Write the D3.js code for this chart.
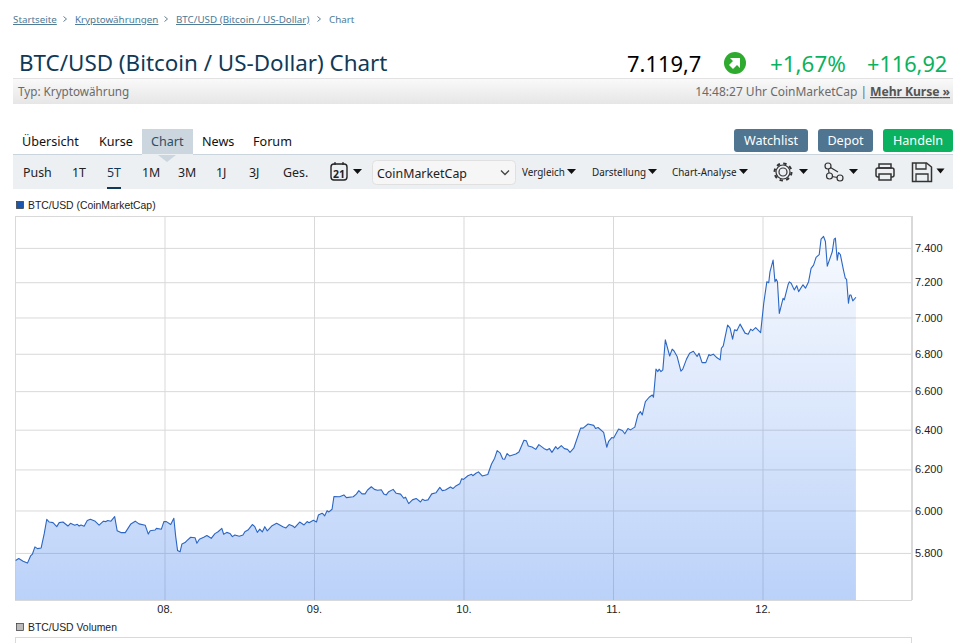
<!DOCTYPE html>
<html>
<head>
<meta charset="utf-8">
<script src="https://cdn.jsdelivr.net/npm/d3@7"></script>
<style>
  html, body { margin: 0; padding: 0; background: #fff; overflow: hidden; }
  svg { display: block; }
  text { font-family: "Noto Sans", sans-serif; }
  .chartText text, text.chartText { font-family: "Liberation Sans", Arial, sans-serif; font-size: 11px; fill: #222; }
  .axis .domain { display: none; }
  .axis line { stroke: #d9d9d9; }
</style>
</head>
<body>
<script>
// hours since 07. 00:00
var hours = [0.1,0.6,1.3,2.0,2.5,2.8,3.2,3.6,4.2,4.7,5.1,5.5,6.1,6.7,7.1,7.7,8.5,8.9,9.6,10.0,10.3,10.6,11.1,11.6,12.1,12.8,13.5,14.2,14.6,14.9,15.4,16.0,16.4,17.0,17.7,18.6,19.3,19.9,20.9,21.4,21.7,22.5,22.7,23.5,23.9,24.3,25.0,25.5,25.8,26.1,26.5,26.8,27.3,27.6,28.2,28.9,29.2,29.6,30.3,30.8,31.5,32.1,32.6,33.2,33.5,34.0,34.5,34.9,35.3,36.0,36.6,36.9,37.4,38.1,38.5,38.9,39.3,39.7,40.1,40.5,41.2,42.0,43.0,43.5,44.0,44.6,44.9,45.7,
  46.4,46.9,47.2,47.9,48.4,48.7,49.3,49.5,49.7,50.1,50.4,50.9,51.2,52.1,52.8,53.2,54.3,54.8,55.2,55.7,56.2,56.6,57.2,57.7,58.2,58.8,59.2,59.6,60.0,60.7,61.2,61.9,62.4,62.7,63.2,63.8,64.4,65.1,65.4,65.8,66.3,66.9,67.6,68.2,68.6,69.1,69.9,70.3,70.7,71.4,71.7,72.0,72.7,73.3,73.5,74.0,74.4,75.0,75.9,76.5,77.0,77.4,77.9,78.3,78.6,79.0,79.4,79.9,80.4,80.9,81.5,81.7,82.1,82.4,83.0,83.6,84.1,84.9,85.4,85.8,86.2,86.8,87.1,87.7,88.2,88.7,89.1,89.7,90.8,91.2,92.0,92.9,93.2,93.6,94.5,95.0,95.3,95.8,96.1,96.9,97.5,97.9,98.4,98.8,99.5,
  100.0,100.4,100.7,101.2,101.8,102.3,102.5,102.9,103.2,103.4,103.7,104.0,104.4,105.1,105.5,105.8,106.3,106.9,107.2,107.8,108.3,108.9,109.5,109.8,110.3,110.9,111.4,111.6,112.1,112.7,113.2,113.4,113.7,114.4,114.8,115.2,115.5,115.9,116.4,117.2,117.7,118.1,118.4,118.9,119.7,120.2,120.7,121.0,121.2,121.7,122.0,122.2,122.4,122.7,123.3,123.5,124.1,124.3,124.6,125.1,125.5,125.8,126.5,126.9,127.4,127.8,128.2,128.6,129.1,129.4,129.8,130.1,130.4,131.2,131.5,131.7,132.0,132.2,132.5,133.0,133.3,133.5,133.8,134.0,134.2,134.5,135.0];

var prices = [5765,5774,5762,5753,5786,5795,5828,5820,5823,5891,5958,5945,5942,5923,5942,5945,5926,5939,5930,5934,5926,5931,5925,5952,5958,5950,5930,5949,5947,5952,5949,5971,5904,5895,5895,5936,5949,5936,5930,5888,5904,5907,5915,5911,5947,5947,5933,5963,5876,5811,5805,5842,5848,5857,5873,5871,5845,5864,5873,5881,5868,5890,5899,5915,5887,5896,5891,5876,5884,5878,5884,5899,5907,5933,5923,5896,5911,5898,5923,5903,5926,5939,5923,5917,5933,5926,5918,5945,
  5931,5947,5942,5953,5945,5978,5987,5982,5974,5999,5993,6006,6067,6066,6075,6062,6066,6079,6096,6080,6080,6099,6115,6102,6098,6100,6080,6075,6091,6102,6083,6079,6059,6064,6033,6051,6058,6041,6054,6048,6051,6080,6086,6112,6096,6099,6114,6106,6117,6129,6154,6151,6169,6176,6169,6181,6188,6168,6175,6227,6256,6294,6281,6252,6251,6279,6267,6272,6277,6287,6331,6346,6343,6317,6312,6300,6324,6305,6297,6304,6285,6314,6302,6319,6304,6300,6285,6306,6408,6408,6429,6422,6406,6411,6386,6311,6341,6360,6358,6403,6396,6379,6406,6399,6413,
  6476,6493,6476,6545,6568,6580,6568,6717,6704,6717,6704,6713,6876,6788,6825,6815,6785,6706,6717,6771,6803,6814,6785,6803,6752,6752,6796,6790,6798,6778,6767,6830,6843,6958,6941,6880,6931,6927,6963,6913,6907,6935,6927,6944,6916,7080,7203,7197,7260,7328,7203,7217,7203,7023,7108,7099,7185,7202,7194,7156,7180,7146,7185,7166,7203,7280,7299,7344,7360,7452,7468,7438,7293,7377,7452,7458,7328,7373,7361,7270,7222,7217,7080,7127,7127,7093,7114];

var yTicks = [5800,6000,6200,6400,6600,6800,7000,7200,7400];
var crumbs = ["Startseite","Kryptowährungen","BTC/USD (Bitcoin / US-Dollar)","Chart"];
var tabs = ["Übersicht","Kurse","Chart","News","Forum"];
var periods = ["Push","1T","5T","1M","3M","1J","3J","Ges."];
var menus = ["Vergleich","Darstellung","Chart-Analyse"];
var buttons = ["Watchlist","Depot","Handeln"];

var svgWidth = 963;
var svgHeight = 643;
var dark = "#0f3a57";
var green = "#0ab260";

var svg = d3.select("body").append("svg")
  .attr("width", svgWidth)
  .attr("height", svgHeight);

var defs = svg.append("defs");

var barGrad = defs.append("linearGradient").attr("id", "barGrad").attr("x2", 0).attr("y2", 1);
barGrad.append("stop").attr("offset", 0).attr("stop-color", "#fafafa");
barGrad.append("stop").attr("offset", 1).attr("stop-color", "#e6e6e6");

function label(sel, x, y, str, size, color) {
  return sel.append("text")
    .attr("x", x)
    .attr("y", y)
    .attr("font-size", size)
    .attr("fill", color)
    .text(str);
}

function caret(cx, cy, w) {
  svg.append("path")
    .attr("d", `M${cx - w / 2},${cy - 2.5}h${w}l${-w / 2},5z`)
    .attr("fill", "#111");
}

// breadcrumbs
var crumbX = [13, 75, 176, 329];
crumbs.forEach(function(c, i) {
  label(svg, crumbX[i], 23, c, 9.8, "#4d7a96")
    .attr("text-decoration", i < 3 ? "underline" : null);
  if (i < 3) {
    var ax = crumbX[i + 1] - 10;
    svg.append("path")
      .attr("d", `M${ax - 1.5},16.5l3,2.5l-3,2.5`)
      .attr("fill", "none")
      .attr("stroke", "#5d7f95");
  }
});

// heading
label(svg, 19, 71, "BTC/USD (Bitcoin / US-Dollar) Chart", 22.4, dark);
label(svg, 627, 72, "7.119,7", 21.9, "#000");
svg.append("circle").attr("cx", 735).attr("cy", 63).attr("r", 11).attr("fill", "#2eaa2e");
svg.append("path")
  .attr("d", "M730,58h10v10l-3,-3l-4,4l-4,-4l4,-4z")
  .attr("fill", "#fff");
label(svg, 770, 72, "+1,67%", 22.4, green);
label(svg, 867, 72, "+116,92", 21.7, green);

svg.append("rect").attr("x", 13).attr("y", 78).attr("width", 940).attr("height", 26).attr("fill", "url(#barGrad)");
svg.append("rect").attr("x", 13).attr("y", 78).attr("width", 940).attr("height", 1).attr("fill", "#e2e2e2");
label(svg, 18, 96, "Typ: Kryptowährung", 11.7, "#6a6a6a");
label(svg, 867, 96, "14:48:27 Uhr CoinMarketCap |", 12, "#6a6a6a")
  .attr("text-anchor", "end");
label(svg, 950, 96, "Mehr Kurse »", 12.2, "#555")
  .attr("text-anchor", "end")
  .attr("font-weight", "bold")
  .attr("text-decoration", "underline")
  .attr("textLength", 80);

// tabs
svg.append("rect").attr("x", 142).attr("y", 129).attr("width", 51).attr("height", 26).attr("fill", "#cbd6de");
var tabX = [22, 99, 151, 202, 253];
tabs.forEach(function(t, i) {
  label(svg, tabX[i], 146, t, 12.6, i == 2 ? "#2c5068" : "#111");
});

// buttons
var btnX = [734, 818, 883];
var btnW = [74, 55, 70];
buttons.forEach(function(b, i) {
  svg.append("rect")
    .attr("x", btnX[i]).attr("y", 129)
    .attr("width", btnW[i]).attr("height", 23)
    .attr("rx", 3)
    .attr("fill", i == 2 ? green : "#4f7590");
  label(svg, btnX[i] + btnW[i] / 2, 145, b, 12.6, "#fff").attr("text-anchor", "middle");
});

// toolbar
svg.append("rect").attr("x", 13).attr("y", 154).attr("width", 940).attr("height", 35).attr("fill", "#ecf0f3");
svg.append("rect").attr("x", 13).attr("y", 154).attr("width", 129).attr("height", 1).attr("fill", "#c9d4dc");
svg.append("rect").attr("x", 193).attr("y", 154).attr("width", 760).attr("height", 1).attr("fill", "#c9d4dc");
svg.append("path").attr("d", "M158,155h18l-9,7z").attr("fill", "#cbd6de");

var periodX = [23, 72, 107, 142, 178, 216, 249, 283];
periods.forEach(function(p, i) {
  label(svg, periodX[i], 177, p, 12.4, i == 2 ? dark : "#222");
});
svg.append("rect").attr("x", 107).attr("y", 187).attr("width", 14).attr("height", 2).attr("fill", dark);

// calendar icon
svg.append("rect").attr("x", 331).attr("y", 164).attr("width", 16).attr("height", 16).attr("rx", 3)
  .attr("fill", "none").attr("stroke", "#222").attr("stroke-width", 1.4);
svg.append("path").attr("d", "M335,162v3M343,162v3").attr("stroke", "#222").attr("stroke-width", 1.2);
label(svg, 339, 177.5, "21", 10.5, "#222").attr("text-anchor", "middle").attr("font-weight", "bold");
caret(357.5, 171.5, 9);

// source select
svg.append("rect").attr("x", 372.5).attr("y", 160.5).attr("width", 143).attr("height", 24).attr("rx", 4)
  .attr("fill", "#f6f6f6").attr("stroke", "#e0e0e0");
label(svg, 377, 178, "CoinMarketCap", 12.4, "#222");
svg.append("path").attr("d", "M501,170.5l4,4l4,-4").attr("fill", "none").attr("stroke", "#444").attr("stroke-width", 1.3);

var menuX = [522, 592, 672];
var caretX = [571.5, 652.5, 743.5];
menus.forEach(function(m, i) {
  label(svg, menuX[i], 176, m, 9.9, "#222");
  caret(caretX[i], 171.5, 9);
});

// tool icons
var iconLine = { fill: "none", stroke: "#333", "stroke-width": 1.2 };
function styled(sel) {
  Object.keys(iconLine).forEach(function(k) { sel.attr(k, iconLine[k]); });
  return sel;
}
styled(svg.append("circle").attr("cx", 783).attr("cy", 172).attr("r", 4));
styled(svg.append("circle").attr("cx", 783).attr("cy", 172).attr("r", 7));
styled(svg.append("circle").attr("cx", 783).attr("cy", 172).attr("r", 8.5))
  .attr("stroke-dasharray", "3.4 3.27").attr("stroke-width", 2);
caret(803.5, 171.5, 9);
styled(svg.append("path").attr("d", "M828,166L829.5,176L840,178M828,166L838,172"));
[[828, 166], [840, 178], [829.5, 176]].forEach(function(c) {
  styled(svg.append("circle").attr("cx", c[0]).attr("cy", c[1]).attr("r", 3)).attr("fill", "#ecf0f3");
});
caret(853.5, 171.5, 9);
styled(svg.append("rect").attr("x", 876).attr("y", 168).attr("width", 18).attr("height", 9).attr("rx", 2)).attr("stroke-width", 1.5);
styled(svg.append("rect").attr("x", 879).attr("y", 164).attr("width", 12).attr("height", 4)).attr("stroke-width", 1.5);
styled(svg.append("rect").attr("x", 879).attr("y", 174).attr("width", 12).attr("height", 6)).attr("stroke-width", 1.5).attr("fill", "#ecf0f3");
styled(svg.append("path").attr("d", "M912.5,163h14l5,4v14.5h-19z")).attr("stroke-width", 1.5);
styled(svg.append("path").attr("d", "M916,163v6h10v-6M916,181v-7h12v7")).attr("stroke-width", 1.3);
caret(940.5, 171, 8);

// chart legend
svg.append("rect").attr("x", 16.5).attr("y", 201.5).attr("width", 7).attr("height", 7)
  .attr("fill", "#1a56b0").attr("stroke", "#333").attr("stroke-width", 0.7);
label(svg, 28, 209, "BTC/USD (CoinMarketCap)", 10.4, "#222").attr("class", "chartText").style("font-size", "10.4px");

// price chart
var plot = { left: 15, right: 912, top: 216, bottom: 600 };

var points = hours.map(function(h, i) {
  return { date: new Date(Date.UTC(2019, 4, 7) + h * 3600000), price: prices[i] };
});

var xScale = d3.scaleUtc()
  .domain([new Date(Date.UTC(2019, 4, 7)), new Date(Date.UTC(2019, 4, 13))])
  .range([plot.left, plot.right]);

var yScale = d3.scaleLog()
  .domain([5586, 7591])
  .range([plot.bottom, plot.top]);

var areaGrad = defs.append("linearGradient")
  .attr("id", "areaGrad")
  .attr("gradientUnits", "userSpaceOnUse")
  .attr("x1", 0).attr("x2", 0)
  .attr("y1", yScale(d3.max(prices))).attr("y2", plot.bottom);
areaGrad.append("stop").attr("offset", 0).attr("stop-color", "#3d7fee").attr("stop-opacity", 0.04);
areaGrad.append("stop").attr("offset", 1).attr("stop-color", "#2f74ec").attr("stop-opacity", 0.33);

svg.append("rect")
  .attr("x", plot.left + 0.5).attr("y", plot.top + 0.5)
  .attr("width", plot.right - plot.left - 1).attr("height", plot.bottom - plot.top)
  .attr("fill", "#fff").attr("stroke", "#d9d9d9");

// horizontal grid with labels on the right
svg.append("g")
  .attr("class", "axis chartText")
  .attr("transform", `translate(${plot.right}, 0)`)
  .call(d3.axisLeft(yScale)
    .tickValues(yTicks)
    .tickSize(plot.right - plot.left)
    .tickFormat(""));

var yAxis = svg.append("g")
  .attr("class", "axis chartText")
  .attr("transform", `translate(${plot.right}, 0)`)
  .call(d3.axisRight(yScale)
    .tickValues(yTicks)
    .tickSize(0)
    .tickPadding(3)
    .tickFormat(function(d) { return d3.format(",")(d).replace(",", "."); }));

// day grid with labels below
svg.append("g")
  .attr("class", "axis chartText")
  .attr("transform", `translate(0, ${plot.bottom})`)
  .call(d3.axisBottom(xScale)
    .ticks(d3.utcDay.every(1))
    .tickSize(plot.top - plot.bottom)
    .tickFormat(""));

svg.append("g")
  .attr("class", "axis chartText")
  .attr("transform", `translate(0, ${plot.bottom})`)
  .call(d3.axisBottom(xScale)
    .tickValues(d3.utcDay.range(new Date(Date.UTC(2019, 4, 8)), new Date(Date.UTC(2019, 4, 13))))
    .tickSize(0)
    .tickPadding(5)
    .tickFormat(d3.utcFormat("%d.")));

var area = d3.area()
  .x(function(d) { return xScale(d.date); })
  .y0(plot.bottom)
  .y1(function(d) { return yScale(d.price); });

var line = d3.line()
  .x(function(d) { return xScale(d.date); })
  .y(function(d) { return yScale(d.price); });

svg.append("path").datum(points).attr("d", area).attr("fill", "url(#areaGrad)");
svg.append("path").datum(points).attr("d", line)
  .attr("fill", "none")
  .attr("stroke", "#2b66c4")
  .attr("stroke-width", 1.1)
  .attr("stroke-linejoin", "round");

// volume panel, only its top edge is in view
svg.append("rect").attr("x", 16.5).attr("y", 623.5).attr("width", 7).attr("height", 7)
  .attr("fill", "#bbb").attr("stroke", "#333").attr("stroke-width", 0.7);
label(svg, 28, 631, "BTC/USD Volumen", 10.4, "#222").attr("class", "chartText").style("font-size", "10.4px");
svg.append("rect")
  .attr("x", plot.left + 0.5).attr("y", 637.5)
  .attr("width", plot.right - plot.left - 1).attr("height", 40)
  .attr("fill", "#fff").attr("stroke", "#d9d9d9");
</script>
</body>
</html>
